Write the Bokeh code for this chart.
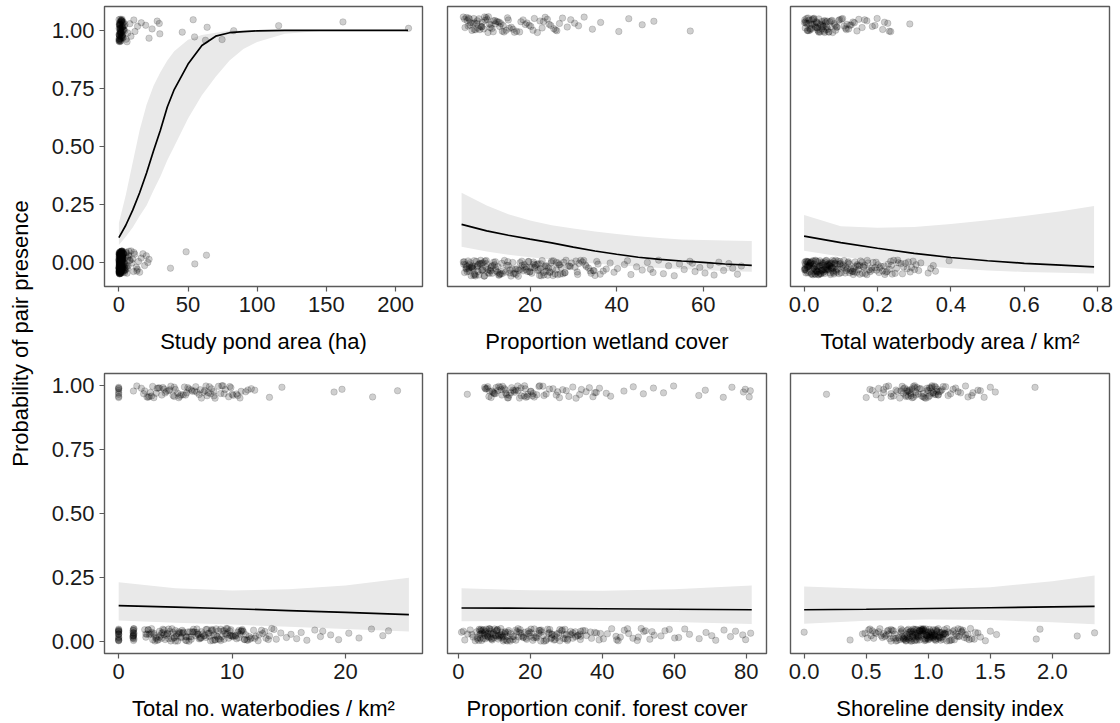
from math import pi
from bokeh.plotting import figure
from bokeh.layouts import row, column
from bokeh.models import Range1d, FixedTicker, PrintfTickFormatter, Label
from bokeh.embed import file_html
from bokeh.resources import INLINE

# ------------------------------------------------------------------ texts / ticks
Y_TITLE = "Probability of pair presence"
X_TITLES = ["Study pond area (ha)", "Proportion wetland cover", "Total waterbody area / km\u00b2",
            "Total no. waterbodies / km\u00b2", "Proportion conif. forest cover", "Shoreline density index"]
Y_TICKS = [0, 0.25, 0.5, 0.75, 1.0]
X_TICKS = [[0, 50, 100, 150, 200], [20, 40, 60], [0, 0.2, 0.4, 0.6, 0.8],
           [0, 10, 20], [0, 20, 40, 60, 80], [0, 0.5, 1.0, 1.5, 2.0]]
X_FMT = ["%d", "%d", "%.1f", "%d", "%d", "%.1f"]
X_LIMITS = [(-10.4, 219.5), (0.95, 74.6), (-0.037, 0.832), (-1.25, 26.8), (-3.0, 85.6), (-0.11, 2.46)]
Y_LIMITS_ROW = [(-0.104, 1.103), (-0.048, 1.047)]

# jitter band per panel: (absent centre, present centre, half-height)
JITTER_BAND = [(0.0, 1.0, 0.05), (-0.025, 1.025, 0.035), (-0.022, 1.022, 0.032),
               (0.025, 0.975, 0.025), (0.025, 0.975, 0.025), (0.025, 0.975, 0.025)]

# vertical jitter (fraction of the half-height)
JIT_A = [0.42, -0.81, 0.13, 0.77, -0.35, -0.92, 0.58, 0.04, -0.66, 0.89,
         -0.18, 0.31, -0.54, 0.95, -0.07, 0.66, -0.88, 0.22, -0.41, 0.73,
         0.09, -0.73, 0.48, -0.27, 0.84, -0.96, 0.36, -0.12, 0.61, -0.49,
         0.17, -0.62, 0.92, -0.31, 0.02, 0.55, -0.84, 0.27, -0.19, 0.79,
         -0.58, 0.44, -0.03, 0.69, -0.77, 0.12, -0.45, 0.98, -0.25, 0.35,
         -0.91, 0.63, -0.14, 0.81, -0.38, 0.07, -0.69, 0.51, -0.86, 0.24,
         0.86, -0.22, 0.39, -0.97, 0.14, -0.52, 0.72, -0.09, 0.47, -0.71,
         0.28, -0.33, 0.93, -0.61, 0.05, 0.67, -0.43, 0.19, -0.82, 0.54,
         -0.16, 0.88, -0.56, 0.33, -0.94, 0.11, 0.76, -0.29, 0.59, -0.74,
         0.01, -0.47, 0.83, -0.11, 0.38, -0.63, 0.96, -0.36, 0.21, -0.89,
         0.64, -0.05, 0.45, -0.79, 0.16, -0.24, 0.71, -0.53, 0.99, -0.68,
         0.29, -0.93, 0.52, -0.17, 0.85, -0.42, 0.08, -0.6, 0.37, -0.85,
         0.74, -0.28, 0.57, -0.01, -0.75, 0.26, -0.5, 0.91, -0.13, 0.62,
         -0.44, 0.68, -0.87, 0.15, 0.53, -0.21, 0.94, -0.65, 0.32, -0.06,
         0.78, -0.39, 0.03, -0.95, 0.49, -0.26, 0.87, -0.57, 0.23, -0.8,
         0.6, -0.1, 0.41, -0.72, 0.97, -0.34, 0.18, -0.48, 0.7, -0.99,
         0.36, -0.15, 0.82, -0.62, 0.06, -0.3, 0.55, -0.83, 0.25, -0.52,
         0.9, -0.2, 0.46, -0.7, 0.1, -0.4, 0.75, -0.9, 0.31, -0.08,
         0.65, -0.55, 0.2, -0.78, 0.95, -0.35, 0.5, -0.12, 0.8, -0.66,
         0.12, -0.98, 0.43, -0.23, 0.68, -0.46, 0.03, -0.73, 0.88, -0.32]
JIT_P = [-0.37, 0.71, -0.88, 0.24, 0.55, -0.12, 0.93, -0.64, 0.08, -0.45,
         0.82, -0.27, 0.39, -0.95, 0.16, 0.63, -0.71, 0.47, -0.04, 0.87,
         -0.53, 0.3, -0.83, 0.69, -0.19, 0.11, -0.6, 0.97, -0.33, 0.5,
         -0.9, 0.2, 0.76, -0.41, 0.04, -0.76, 0.58, -0.22, 0.9, -0.5,
         0.35, -0.98, 0.66, -0.09, 0.44, -0.67, 0.13, 0.8, -0.3, 0.6,
         -0.15, 0.92, -0.56, 0.27, -0.85, 0.73, -0.02, 0.41, -0.79, 0.18,
         0.51, -0.72, 0.14, -0.28, 0.86, -0.49, 0.33, -0.91, 0.67, -0.06,
         0.22, -0.62, 0.95, -0.38, 0.09, -0.81, 0.57, -0.17, 0.74, -0.44,
         0.29, -0.97, 0.48, -0.25, 0.83, -0.58, 0.02, -0.7, 0.38, -0.12]

# ------------------------------------------------------------------ observations (x of absent / present ponds)
X1_ABS = [0.1, 0.4, 0.2, 0.9, 0.6, 1.3, 0.3, 1.7, 0.5, 2.2,
          0.8, 1.1, 0.15, 2.6, 0.7, 1.5, 0.35, 1.9, 0.05, 3.1,
          1.2, 0.45, 2.4, 0.25, 1.6, 0.95, 2.9, 0.55, 1.4, 0.12,
          2.0, 0.65, 1.05, 3.3, 0.85, 1.8, 0.22, 2.7, 1.25, 0.38,
          0.75, 2.1, 0.18, 1.45, 3.0, 0.58, 1.15, 2.45, 0.32, 1.95,
          0.48, 2.8, 1.35, 0.08, 1.65, 0.92, 2.25, 0.28, 1.55, 3.4,
          0.68, 1.02, 2.55, 0.42, 1.85, 0.15, 2.35, 0.78, 1.28, 0.02,
          2.05, 0.52, 1.72, 0.88, 2.95, 0.33, 1.18, 2.65, 0.62, 1.48,
          0.27, 1.92, 0.72, 2.15, 1.08, 0.44, 3.2, 0.97, 1.62, 0.19,
          3.7, 4.3, 5.2, 3.9, 6.4, 4.8, 7.3, 5.6, 8.2, 4.1,
          6.9, 9.5, 5.0, 10.6, 7.8, 4.6, 11.4, 6.1, 8.8, 3.6,
          9.9, 5.9, 7.1, 4.5, 10.9, 12.6, 14.2, 13.4, 16.1, 15.0,
          17.4, 18.6, 19.8, 20.9, 13.0, 21.8, 37.3, 48.6, 54.9, 63.3,
          0.06, 0.36, 0.66, 0.96, 1.26, 1.56, 1.86, 2.16, 2.46, 0.21,
          0.51, 0.81, 1.11, 1.41, 1.71, 2.01, 2.31, 2.61, 0.11, 0.41,
          0.71, 1.01, 1.31, 1.61, 1.91, 2.21, 2.51, 2.81, 0.26, 0.56,
          0.86, 1.16, 1.46, 1.76, 2.06, 2.36, 2.66, 3.05, 0.16, 0.46,
          0.76, 1.06, 1.36, 1.66, 1.96, 2.26, 3.35, 0.03, 0.31, 0.61,
          0.91, 1.21, 1.51, 1.81, 2.11, 2.41, 2.71, 3.15, 3.55, 3.85,
          0.09, 0.39, 0.69, 0.99, 1.29, 1.59, 1.89, 4.4, 5.3, 6.6]
X1_PRES = [0.3, 1.2, 0.6, 2.4, 0.9, 1.8, 0.1, 3.1, 1.5, 0.45,
           2.1, 0.75, 3.8, 1.05, 0.2, 2.7, 1.35, 0.55, 4.2, 1.65,
           0.85, 2.25, 0.35, 3.4, 1.95, 0.65, 2.9, 1.1, 0.15, 4.4,
           1.45, 0.95, 2.55, 0.4, 3.6, 5.2, 7.9, 6.4, 10.8, 8.7,
           13.5, 5.9, 16.2, 11.6, 19.4, 21.8, 24.0, 27.7, 29.6, 29.2,
           45.8, 53.7, 54.7, 63.8, 62.6, 162.0, 83.0, 115.5, 74.6, 209.4,
           0.25, 0.7, 1.15, 1.6, 2.05, 2.5, 2.95, 0.05, 0.5, 0.95,
           1.4, 1.85, 2.3, 2.75, 3.2, 0.18, 0.62, 1.08, 1.52, 1.98,
           2.42, 0.38, 0.82, 1.28, 1.72, 2.18, 3.0, 0.12, 0.58, 1.02]

X2_ABS = [5.1, 7.3, 9.8, 4.6, 12.2, 6.4, 8.5, 11.0, 13.6, 5.7,
          10.3, 7.9, 4.9, 14.1, 6.9, 9.2, 12.8, 5.4, 8.0, 11.6,
          6.1, 13.2, 4.7, 10.7, 7.6, 9.5, 14.6, 5.9, 8.9, 12.5,
          6.6, 11.3, 7.1, 13.9, 5.2, 10.0, 8.2, 6.8, 9.0, 12.0,
          15.3, 18.7, 22.4, 26.1, 16.8, 20.5, 24.6, 28.3, 17.4, 21.2,
          25.3, 29.6, 15.9, 19.6, 23.7, 27.2, 16.2, 20.9, 24.1, 28.8,
          18.1, 22.0, 26.7, 15.6, 19.1, 23.1, 27.8, 17.0, 21.6, 25.8,
          29.1, 18.4, 22.8, 16.5, 20.1, 24.9, 19.9, 23.4, 26.4, 21.9,
          17.8, 25.0, 28.0, 15.0, 22.6, 30.4, 32.1, 34.6, 31.3, 36.2,
          33.5, 30.9, 35.4, 37.6, 32.8, 34.1, 31.7, 36.9, 33.0, 35.0,
          38.5, 40.2, 41.8, 43.3, 44.6, 45.9, 47.1, 48.4, 49.7, 50.8,
          52.0, 53.3, 54.5, 55.6, 56.9, 58.1, 59.2, 60.4, 61.6, 62.5,
          63.6, 64.7, 65.9, 66.8, 67.9, 68.8, 39.4, 42.5, 47.8, 57.5,
          5.5, 6.2, 7.0, 7.7, 8.4, 9.1, 9.9, 10.6, 11.4, 12.1,
          4.8, 5.9, 6.7, 7.4, 8.1, 8.8, 9.6, 10.3, 11.1, 12.9,
          13.5, 5.3, 6.0, 7.2, 8.6, 10.9, 12.6, 14.4, 16.0, 17.3,
          18.2, 19.0, 19.7, 20.4, 21.1, 21.8, 22.5, 23.2, 23.9, 24.6,
          25.4, 26.1, 26.9, 27.6, 18.6, 19.4, 20.8, 22.2, 23.6, 25.2,
          26.5, 28.1, 29.3, 31.0, 32.4, 33.9, 35.7, 16.7, 14.9, 13.0,
          6.5, 9.4, 11.8, 15.4, 17.7, 20.0, 24.3, 27.0, 30.6, 34.8]
X2_PRES = [5.0, 8.2, 11.5, 6.3, 9.7, 13.8, 4.6, 7.4, 10.6, 15.2,
           5.8, 8.9, 12.3, 16.4, 6.9, 10.1, 14.5, 7.8, 11.0, 5.3,
           9.3, 12.9, 16.9, 6.0, 8.6, 13.3, 7.1, 10.4, 15.7, 11.9,
           17.6, 19.3, 21.0, 22.8, 24.4, 26.2, 18.4, 20.2, 23.5, 25.5,
           17.9, 21.7, 24.0, 19.8, 22.3, 25.9, 26.8, 27.5, 28.6, 29.4,
           31.2, 32.5, 34.4, 36.3, 40.5, 42.8, 45.9, 48.6, 57.0, 30.3,
           5.5, 6.6, 7.7, 8.8, 9.9, 11.2, 12.6, 14.0, 4.9, 6.1,
           7.2, 8.4, 9.5, 10.8, 12.0, 13.6, 15.0, 5.7, 7.0, 8.0,
           9.0, 10.3, 11.6, 13.0, 14.8, 16.1, 18.9, 20.7, 23.1, 24.8]

X3_ABS = [0.004, 0.021, 0.043, 0.012, 0.067, 0.031, 0.085, 0.008, 0.052, 0.026,
          0.074, 0.015, 0.038, 0.061, 0.002, 0.047, 0.081, 0.019, 0.034, 0.057,
          0.010, 0.071, 0.028, 0.088, 0.005, 0.040, 0.064, 0.023, 0.050, 0.078,
          0.013, 0.036, 0.059, 0.001, 0.083, 0.017, 0.045, 0.069, 0.030, 0.007,
          0.055, 0.025, 0.076, 0.011, 0.042, 0.063, 0.033, 0.086, 0.003, 0.049,
          0.020, 0.073, 0.039, 0.009, 0.058, 0.027, 0.080, 0.016, 0.046, 0.066,
          0.092, 0.118, 0.145, 0.171, 0.103, 0.131, 0.158, 0.184, 0.097, 0.124,
          0.151, 0.177, 0.109, 0.137, 0.163, 0.188, 0.114, 0.141, 0.167, 0.099,
          0.127, 0.154, 0.180, 0.106, 0.134, 0.161, 0.121, 0.148, 0.174, 0.112,
          0.193, 0.214, 0.236, 0.252, 0.201, 0.223, 0.244, 0.197, 0.218, 0.240,
          0.257, 0.206, 0.229, 0.248, 0.210, 0.233, 0.196, 0.226, 0.255, 0.204,
          0.238, 0.220, 0.264, 0.281, 0.297, 0.312, 0.271, 0.289, 0.305, 0.268,
          0.284, 0.301, 0.276, 0.293, 0.338, 0.352, 0.358, 0.395, 0.345, 0.318,
          0.006, 0.018, 0.029, 0.041, 0.053, 0.065, 0.077, 0.089, 0.014, 0.026,
          0.037, 0.048, 0.060, 0.072, 0.084, 0.003, 0.022, 0.034, 0.044, 0.056,
          0.068, 0.079, 0.091, 0.010, 0.031, 0.051, 0.070, 0.087, 0.002, 0.024,
          0.046, 0.062, 0.081, 0.015, 0.035, 0.054, 0.075, 0.095, 0.008, 0.027,
          0.043, 0.058, 0.071, 0.101, 0.113, 0.126, 0.139, 0.152, 0.165, 0.108,
          0.119, 0.132, 0.146, 0.159, 0.172, 0.185, 0.123, 0.136, 0.098, 0.143,
          0.012, 0.039, 0.066, 0.093, 0.019, 0.048, 0.074, 0.005, 0.032, 0.061]
X3_PRES = [0.003, 0.021, 0.044, 0.012, 0.058, 0.030, 0.007, 0.037, 0.051, 0.016,
           0.026, 0.062, 0.001, 0.041, 0.019, 0.055, 0.009, 0.033, 0.047, 0.024,
           0.064, 0.005, 0.039, 0.014, 0.053, 0.028, 0.060, 0.011, 0.035, 0.049,
           0.068, 0.082, 0.097, 0.113, 0.128, 0.144, 0.074, 0.089, 0.105, 0.121,
           0.137, 0.078, 0.094, 0.109, 0.133, 0.086, 0.117, 0.149, 0.158, 0.171,
           0.186, 0.199, 0.214, 0.228, 0.236, 0.165, 0.193, 0.219, 0.232, 0.288,
           0.004, 0.013, 0.022, 0.031, 0.040, 0.049, 0.058, 0.067, 0.076, 0.085,
           0.008, 0.017, 0.027, 0.036, 0.045, 0.054, 0.063, 0.072, 0.002, 0.020,
           0.038, 0.056, 0.070, 0.090, 0.102, 0.115, 0.125, 0.010, 0.034, 0.052]

X4_ABS = [0, 0, 0, 0, 0, 0, 0, 0, 0, 0,
          1.27, 1.31, 1.27, 1.35, 1.31, 1.27, 1.31, 1.35, 1.27, 1.31,
          2.5, 4.1, 6.3, 8.7, 10.9, 3.2, 5.4, 7.6, 9.8, 11.7,
          2.8, 4.7, 6.9, 9.1, 11.2, 3.6, 5.9, 8.0, 10.3, 2.6,
          4.4, 6.6, 8.4, 10.6, 3.0, 5.1, 7.3, 9.5, 11.5, 3.9,
          6.0, 8.2, 10.1, 2.3, 4.9, 7.0, 9.3, 11.0, 3.4, 5.6,
          7.8, 10.0, 2.9, 5.2, 7.4, 9.7, 11.9, 4.2, 6.5, 8.9,
          3.8, 6.2, 8.6, 10.4, 2.7, 5.0, 7.2, 9.4, 11.3, 4.5,
          6.8, 9.0, 3.3, 5.7, 8.1, 10.7, 4.0, 6.4, 8.8, 11.1,
          3.1, 5.5, 7.7, 9.9, 4.8, 7.1, 9.6, 2.4, 5.3, 8.3,
          10.8, 3.7, 6.1, 8.5, 4.3, 12.1, 12.6, 13.0, 13.5, 13.9,
          14.3, 12.3, 12.9, 13.3, 13.7, 14.8, 15.2, 15.7, 16.1, 16.6,
          17.3, 17.8, 18.0, 18.7, 19.4, 20.3, 21.2, 22.3, 23.3, 23.8,
          0, 0, 0, 0, 0, 1.27, 1.31, 1.35, 1.27, 1.31,
          2.6, 3.3, 4.0, 4.6, 5.3, 5.9, 6.6, 7.2, 7.9, 8.5,
          9.2, 9.8, 10.5, 11.1, 2.9, 3.6, 4.3, 4.9, 5.6, 6.2,
          6.9, 7.5, 8.2, 8.8, 9.5, 10.1, 10.8, 11.4, 3.1, 3.8,
          4.4, 5.1, 5.7, 6.4, 7.0, 7.7, 8.3, 9.0, 9.6, 10.3,
          10.9, 12.0, 12.7, 3.5, 4.7, 6.0, 7.3, 8.6, 9.9, 11.6,
          2.4, 5.0, 6.7, 8.0, 9.3, 10.6, 12.4, 13.2, 3.9, 5.5]
X4_PRES = [0, 0, 0, 0, 0, 0, 1.6, 2.9, 4.2, 5.5,
           6.8, 8.1, 9.4, 10.7, 2.3, 3.6, 4.9, 6.2, 7.5, 8.8,
           10.1, 11.4, 2.6, 3.9, 5.2, 6.5, 7.8, 9.1, 10.4, 11.7,
           3.1, 4.4, 5.8, 7.1, 8.4, 9.7, 2.0, 3.3, 4.6, 5.9,
           7.2, 8.5, 9.9, 2.8, 4.0, 5.4, 6.7, 8.0, 9.3, 3.5,
           6.0, 7.7, 4.8, 12.0, 13.3, 14.4, 19.0, 19.7, 22.4, 24.6,
           0, 0, 1.3, 2.2, 3.0, 3.8, 4.5, 5.3, 6.1, 6.9,
           7.6, 8.4, 9.2, 10.0, 10.8, 2.5, 3.4, 4.1, 4.9, 5.7,
           6.4, 7.3, 8.2, 9.0, 9.8, 10.5, 11.2, 2.7, 5.0, 7.9]

X5_ABS = [0.9, 1.8, 2.6, 3.3, 4.1, 4.7, 1.4, 3.8, 5.3, 7.8,
          10.4, 13.1, 6.1, 8.6, 11.2, 14.0, 5.7, 9.1, 12.0, 6.8,
          9.6, 12.7, 5.1, 8.2, 10.9, 13.6, 7.2, 11.6, 6.4, 9.9,
          14.5, 7.5, 10.1, 12.4, 5.9, 8.9, 13.3, 6.6, 11.0, 7.0,
          9.3, 12.1, 8.0, 10.6, 14.3, 6.2, 8.4, 11.8, 15.4, 19.8,
          24.3, 28.7, 33.1, 17.2, 21.5, 26.0, 30.4, 16.3, 20.7, 25.1,
          29.6, 34.0, 18.4, 22.9, 27.3, 31.8, 15.9, 23.6, 32.5, 19.0,
          27.9, 16.8, 21.1, 25.7, 30.0, 34.6, 18.0, 22.4, 26.6, 31.2,
          17.6, 24.8, 29.2, 20.3, 28.2, 33.7, 23.0, 15.1, 19.4, 26.9,
          31.5, 21.8, 25.4, 35.6, 37.9, 40.3, 42.6, 45.0, 47.3, 49.7,
          52.0, 54.4, 36.7, 39.1, 41.4, 43.8, 46.1, 48.5, 50.8, 53.2,
          38.4, 44.4, 51.5, 56.3, 58.6, 61.2, 64.2, 66.9, 68.8, 71.5,
          73.8, 75.6, 77.0, 79.0, 79.8, 81.2, 60.1, 62.9, 70.4, 57.4,
          5.4, 6.0, 6.5, 7.1, 7.6, 8.1, 8.7, 9.2, 9.8, 10.3,
          10.8, 11.4, 11.9, 12.5, 13.0, 13.5, 5.8, 6.9, 8.3, 9.4,
          10.7, 12.2, 13.8, 15.2, 16.6, 18.1, 19.5, 21.0, 22.4, 23.8,
          25.3, 26.8, 28.2, 29.7, 31.1, 32.6, 34.0, 16.0, 17.4, 18.8,
          20.2, 21.7, 23.1, 24.5, 26.0, 27.5, 28.9, 30.3, 31.8, 33.3,
          35.2, 37.0, 39.5, 44.0, 47.0, 50.0, 53.8, 7.4, 9.0, 11.1,
          12.9, 14.4, 16.9, 19.9, 22.7, 25.9, 29.4, 33.9, 6.3, 8.9]
X5_PRES = [2.5, 7.3, 9.1, 11.0, 12.8, 14.6, 16.5, 18.3, 20.1, 21.8,
           8.2, 10.0, 11.9, 13.7, 15.5, 17.4, 19.2, 7.7, 9.6, 12.3,
           14.1, 16.0, 18.8, 10.5, 13.2, 8.7, 20.6, 22.6, 24.4, 26.3,
           28.1, 30.0, 31.8, 33.7, 35.5, 37.4, 39.2, 41.1, 23.5, 27.2,
           29.0, 32.7, 36.4, 38.3, 25.3, 42.3, 46.0, 48.6, 51.4, 54.2,
           57.0, 59.8, 66.8, 68.6, 73.6, 76.0, 79.2, 79.7, 80.8, 81.1,
           7.5, 8.5, 9.4, 10.3, 11.2, 12.1, 13.0, 13.9, 14.8, 15.7,
           16.6, 17.5, 18.4, 19.3, 20.2, 21.1, 8.0, 9.9, 11.6, 13.4,
           15.2, 17.0, 18.6, 20.8, 22.4, 23.8, 27.6, 30.7, 34.2, 37.9]

X6_ABS = [0.0, 0.37, 0.47, 0.52, 1.42, 1.46, 1.50, 1.55, 1.87, 1.90,
          2.20, 2.34, 0.56, 0.61, 0.66, 0.71, 0.75, 0.58, 0.63, 0.68,
          0.73, 0.77, 0.60, 0.65, 0.70, 0.74, 0.57, 0.62, 0.67, 0.72,
          0.64, 0.69, 0.78, 0.83, 0.88, 0.93, 0.98, 1.03, 1.08, 1.13,
          0.80, 0.85, 0.90, 0.95, 1.00, 1.05, 1.10, 1.15, 0.79, 0.84,
          0.89, 0.94, 0.99, 1.04, 1.09, 1.14, 0.81, 0.86, 0.91, 0.96,
          1.01, 1.06, 1.11, 0.82, 0.87, 0.92, 0.97, 1.02, 1.07, 1.12,
          0.78, 0.88, 0.98, 1.08, 0.83, 0.93, 1.03, 1.13, 0.85, 0.95,
          1.05, 0.90, 1.00, 1.10, 0.87, 0.97, 1.07, 0.92, 1.02, 0.80,
          0.94, 1.04, 0.89, 0.99, 1.09, 0.84, 0.96, 1.01, 0.91, 1.06,
          0.86, 0.98, 1.16, 1.19, 1.22, 1.25, 1.28, 1.31, 1.34, 1.37,
          1.40, 1.17, 1.20, 1.23, 1.26, 1.29, 1.32, 1.35, 1.38, 1.18,
          1.21, 1.24, 1.27, 1.30, 1.33, 0.49, 0.51, 0.53, 0.54, 0.55,
          0.76, 0.79, 0.82, 0.85, 0.88, 0.91, 0.94, 0.97, 1.00, 1.03,
          1.06, 1.09, 1.12, 1.15, 0.78, 0.81, 0.84, 0.87, 0.90, 0.93,
          0.96, 0.99, 1.02, 1.05, 1.08, 1.11, 1.14, 0.80, 0.83, 0.86,
          0.89, 0.92, 0.95, 0.98, 1.01, 1.04, 1.07, 1.10, 1.13, 0.82,
          0.88, 0.94, 1.00, 1.06, 1.12, 0.85, 0.91, 0.97, 1.03, 1.09,
          0.72, 0.74, 1.18, 1.21, 1.24, 0.92, 0.98, 1.04, 0.95, 1.01,
          0.68, 0.70, 1.27, 0.87, 0.93, 0.99, 1.05, 0.90, 0.96, 1.02]
X6_PRES = [0.18, 1.86, 0.50, 0.55, 0.60, 0.64, 0.68, 0.72, 0.75, 0.58,
           0.66, 0.70, 0.53, 0.62, 0.78, 0.81, 0.84, 0.87, 0.90, 0.79,
           0.82, 0.85, 0.88, 0.91, 0.80, 0.83, 0.86, 0.89, 0.92, 0.94,
           0.97, 1.00, 1.03, 1.06, 1.09, 0.96, 0.99, 1.02, 1.05, 1.08,
           1.11, 0.98, 1.01, 1.04, 1.07, 0.95, 1.10, 1.14, 1.18, 1.22,
           1.26, 1.30, 1.35, 1.40, 1.45, 1.50, 1.54, 1.20, 1.32, 1.42,
           0.80, 0.82, 0.84, 0.86, 0.88, 0.90, 0.83, 0.87, 0.89, 0.85,
           0.99, 1.01, 1.03, 1.05, 1.07, 1.00, 1.02, 1.04, 1.06, 1.08,
           0.74, 0.77, 0.93, 0.96, 1.12, 1.16, 1.24, 0.70, 0.64, 1.36]

# ------------------------------------------------------------------ fitted curves and confidence bands
X1_FIT = [0, 5, 10, 15, 20, 25, 30, 35, 40, 50, 60, 70, 80, 90, 100, 120, 150, 209]
Y1_FIT = [0.107, 0.16, 0.225, 0.30, 0.385, 0.48, 0.57, 0.67, 0.745, 0.855, 0.935, 0.975, 0.99, 0.995, 0.998, 1.0, 1.0, 1.0]
Y1_HI = [0.17, 0.29, 0.43, 0.57, 0.68, 0.76, 0.82, 0.87, 0.91, 0.96, 0.98, 0.99, 1.0, 1.0, 1.0, 1.0, 1.0, 1.0]
Y1_LO = [0.075, 0.11, 0.15, 0.2, 0.245, 0.31, 0.37, 0.44, 0.50, 0.62, 0.72, 0.80, 0.87, 0.92, 0.95, 0.985, 1.0, 1.0]

X2_FIT = [4.2, 10, 15, 20, 25, 30, 35, 40, 45, 50, 55, 60, 65, 71.2]
Y2_FIT = [0.164, 0.136, 0.117, 0.100, 0.084, 0.066, 0.049, 0.035, 0.022, 0.013, 0.006, 0.0, -0.007, -0.013]
Y2_HI = [0.30, 0.245, 0.207, 0.180, 0.160, 0.146, 0.133, 0.122, 0.113, 0.105, 0.099, 0.096, 0.094, 0.092]
Y2_LO = [0.067, 0.047, 0.033, 0.022, 0.012, 0.003, -0.005, -0.012, -0.018, -0.024, -0.029, -0.033, -0.037, -0.040]

X3_FIT = [0, 0.1, 0.2, 0.3, 0.4, 0.5, 0.6, 0.7, 0.79]
Y3_FIT = [0.113, 0.085, 0.061, 0.039, 0.021, 0.007, -0.004, -0.012, -0.019]
Y3_HI = [0.204, 0.156, 0.149, 0.153, 0.165, 0.182, 0.200, 0.220, 0.243]
Y3_LO = [0.050, 0.025, 0.005, -0.012, -0.025, -0.035, -0.041, -0.045, -0.048]

X4_FIT = [0, 5, 10, 15, 20, 25.6]
Y4_FIT = [0.139, 0.133, 0.127, 0.120, 0.113, 0.104]
Y4_HI = [0.231, 0.207, 0.198, 0.203, 0.218, 0.248]
Y4_LO = [0.081, 0.072, 0.065, 0.057, 0.048, 0.038]

X5_FIT = [0.9, 20, 40, 60, 81.5]
Y5_FIT = [0.130, 0.129, 0.127, 0.125, 0.123]
Y5_HI = [0.207, 0.199, 0.197, 0.203, 0.218]
Y5_LO = [0.078, 0.080, 0.079, 0.075, 0.067]

X6_FIT = [0, 0.5, 1.0, 1.5, 2.0, 2.34]
Y6_FIT = [0.123, 0.125, 0.128, 0.131, 0.134, 0.136]
Y6_HI = [0.214, 0.205, 0.201, 0.211, 0.235, 0.257]
Y6_LO = [0.068, 0.080, 0.085, 0.083, 0.074, 0.066]

ABS = [X1_ABS, X2_ABS, X3_ABS, X4_ABS, X5_ABS, X6_ABS]
PRES = [X1_PRES, X2_PRES, X3_PRES, X4_PRES, X5_PRES, X6_PRES]
FITS = [(X1_FIT, Y1_FIT, Y1_LO, Y1_HI), (X2_FIT, Y2_FIT, Y2_LO, Y2_HI), (X3_FIT, Y3_FIT, Y3_LO, Y3_HI),
        (X4_FIT, Y4_FIT, Y4_LO, Y4_HI), (X5_FIT, Y5_FIT, Y5_LO, Y5_HI), (X6_FIT, Y6_FIT, Y6_LO, Y6_HI)]

# ------------------------------------------------------------------ styling
FONT = "Liberation Sans"
FS = "22px"
FRAME_COL = "#5a5a5a"
LABEL_W = 40
COL_BORDERS = [(64, 318, 12), (13, 319, 12), (12, 319, 11)]   # left, frame, right
ROW_BORDERS = [(6, 280, 70), (17, 280, 70)]                    # top, frame, bottom


def make_panel(i):
    r, c = divmod(i, 3)
    left, fw, right = COL_BORDERS[c]
    top, fh, bottom = ROW_BORDERS[r]
    show_y = (c == 0)
    p = figure(width=left + fw + right, height=top + fh + bottom,
               x_range=Range1d(*X_LIMITS[i]), y_range=Range1d(*Y_LIMITS_ROW[r]),
               output_backend="svg", toolbar_location=None,
               min_border_left=left, min_border_right=right,
               min_border_top=top, min_border_bottom=bottom,
               y_axis_location="left" if show_y else None)
    p.grid.visible = False
    p.outline_line_color = FRAME_COL
    p.outline_line_width = 1.4
    p.background_fill_color = "white"
    p.border_fill_color = "white"

    axes = [(p.xaxis[0], X_TICKS[i], X_FMT[i])]
    if show_y:
        axes.append((p.yaxis[0], Y_TICKS, "%.2f"))
    for ax, ticks, fmt in axes:
        ax.ticker = FixedTicker(ticks=ticks)
        ax.formatter = PrintfTickFormatter(format=fmt)
        ax.axis_line_color = None
        ax.major_tick_line_color = FRAME_COL
        ax.major_tick_line_width = 1.2
        ax.major_tick_out = 5
        ax.major_tick_in = 0
        ax.minor_tick_line_color = None
        ax.major_label_text_font = FONT
        ax.major_label_text_font_size = FS
        ax.major_label_text_color = "#1a1a1a"
    xa = p.xaxis[0]
    xa.major_label_standoff = 5
    xa.axis_label = X_TITLES[i]
    xa.axis_label_text_font = FONT
    xa.axis_label_text_font_size = FS
    xa.axis_label_text_font_style = "normal"
    xa.axis_label_text_color = "black"
    xa.axis_label_standoff = 14
    if show_y:
        p.yaxis[0].major_label_standoff = 5

    xf, yf, ylo, yhi = FITS[i]
    ca, cp, h = JITTER_BAND[i]
    p.varea(x=xf, y1=ylo, y2=yhi, fill_color="#e9e9e9")
    style = dict(size=6.5, marker="circle", fill_color="black", fill_alpha=0.19,
                 line_color="black", line_alpha=0.18, line_width=0.8)
    p.scatter(ABS[i], [ca + h * j for j in JIT_A], **style)
    p.scatter(PRES[i], [cp + h * j for j in JIT_P], **style)
    p.line(xf, yf, line_color="black", line_width=1.7)
    return p


panels = [make_panel(i) for i in range(6)]

lab = figure(width=LABEL_W, height=723, x_range=Range1d(0, LABEL_W), y_range=Range1d(0, 723),
             output_backend="svg", toolbar_location=None,
             x_axis_location=None, y_axis_location=None, min_border=0)
lab.grid.visible = False
lab.outline_line_color = None
lab.add_layout(Label(x=20, y=723 - 333, text=Y_TITLE, angle=pi / 2,
                     text_align="center", text_baseline="middle",
                     text_font=FONT, text_font_size=FS, text_color="black"))

layout = row(lab, column(row(*panels[:3]), row(*panels[3:])))

open("out.html", "w").write(file_html(layout, INLINE))
